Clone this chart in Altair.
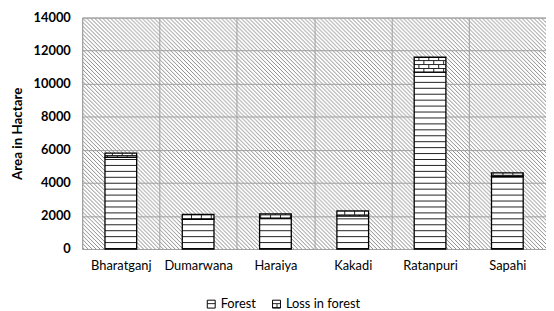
import altair as alt
import pandas as pd
import jinja2

# ---- data ----
blocks = ["Bharatganj", "Dumarwana", "Haraiya", "Kakadi", "Ratanpuri", "Sapahi"]
forest = [5550, 1800, 1870, 2000, 10700, 4400]
loss = [250, 300, 260, 300, 900, 200]
series = ["Forest", "Loss in forest"]
y_ticks = [0, 2000, 4000, 6000, 8000, 10000, 12000, 14000]

rows = []
for b, f, l in zip(blocks, forest, loss):
    rows.append({"Block": b, "Type": series[0], "Area": f, "k": 0})
    rows.append({"Block": b, "Type": series[1], "Area": l, "k": 1})
df = pd.DataFrame(rows)

GRID = "#a0a0a0"
FONT = "Lato"

chart = (
    alt.Chart(df)
    .mark_bar(stroke="black", strokeWidth=1.3, width=alt.RelativeBandSize(0.41))
    .encode(
        x=alt.X(
            "Block:N",
            sort=blocks,
            title=None,
            scale=alt.Scale(paddingInner=0, paddingOuter=0),
            axis=alt.Axis(
                labelAngle=0, grid=True, tickBand="extent", gridColor=GRID,
                domain=False, ticks=False, labelPadding=11, labelFontSize=13,
                labelFont=FONT, labelColor="black",
            ),
        ),
        y=alt.Y(
            "Area:Q",
            stack="zero",
            title="Area in Hactare",
            scale=alt.Scale(domain=[0, 14000], nice=False),
            axis=alt.Axis(
                values=y_ticks, format="d", grid=True, gridColor=GRID, domain=False,
                ticks=False, labelPadding=12, labelFontSize=13, labelFontWeight="bold",
                labelFont=FONT, labelColor="black", titleFont=FONT,
                titleFontSize=13.5, titleFontWeight="bold", titleColor="black",
                titlePadding=9,
            ),
        ),
        fill=alt.Fill(
            "Type:N",
            scale=alt.Scale(domain=series, range=["url(#forest)", "url(#loss)"]),
            legend=alt.Legend(
                title=None, orient="none", legendX=124, legendY=283,
                direction="horizontal", symbolType="square", symbolSize=64,
                symbolStrokeColor="black", symbolStrokeWidth=1, labelFont=FONT,
                labelFontSize=13, labelColor="black", columnPadding=14,
                labelOffset=3, padding=0,
            ),
        ),
        order=alt.Order("k:Q", sort="ascending"),
    )
    .properties(
        width=469,
        height=234,
        autosize=alt.AutoSizeParams(type="none"),
        padding={"left": 75, "top": 8, "right": 0, "bottom": 60},
    )
    .configure_view(stroke=GRID, fill="url(#diag)")
)

TEMPLATE = jinja2.Template("""<!DOCTYPE html>
<html>
<head>
  <style>
    html, body { overflow: hidden; }
    #{{ output_div }}.vega-embed { width: 100%; display: flex; }
  </style>
  <script type="text/javascript" src="{{ base_url }}/vega@{{ vega_version }}"></script>
  <script type="text/javascript" src="{{ base_url }}/vega-lite@{{ vegalite_version }}"></script>
  <script type="text/javascript" src="{{ base_url }}/vega-embed@{{ vegaembed_version }}"></script>
</head>
<body>
<svg width="0" height="0" style="position:absolute;left:0;top:0">
  <defs>
    <pattern id="diag" patternUnits="userSpaceOnUse" width="4" height="4">
      <rect width="4" height="4" fill="#ffffff"/>
      <path d="M-1,-1 L5,5 M3,-1 L5,1 M-1,3 L1,5" stroke="#8a8a8a" stroke-width="1"/>
    </pattern>
    <pattern id="forest" patternUnits="userSpaceOnUse" width="8" height="6">
      <rect width="8" height="6" fill="#ffffff"/>
      <rect y="5" width="8" height="1" fill="#222222" shape-rendering="crispEdges"/>
    </pattern>
    <pattern id="loss" patternUnits="userSpaceOnUse" width="10" height="8">
      <rect width="10" height="8" fill="#ffffff"/>
      <g fill="#222222" shape-rendering="crispEdges">
        <rect y="3" width="10" height="1"/>
        <rect y="7" width="10" height="1"/>
        <rect x="0" y="0" width="1" height="3"/>
        <rect x="5" y="4" width="1" height="3"/>
      </g>
    </pattern>
  </defs>
</svg>
<div id="{{ output_div }}"></div>
<script type="text/javascript">
  var spec = {{ spec }};
  var embedOpt = {{ embed_options }};
  vegaEmbed("#{{ output_div }}", spec, embedOpt).catch(console.error);
</script>
</body>
</html>
""")

chart.save("out.html", embed_options={"renderer": "svg", "actions": False}, template=TEMPLATE)
